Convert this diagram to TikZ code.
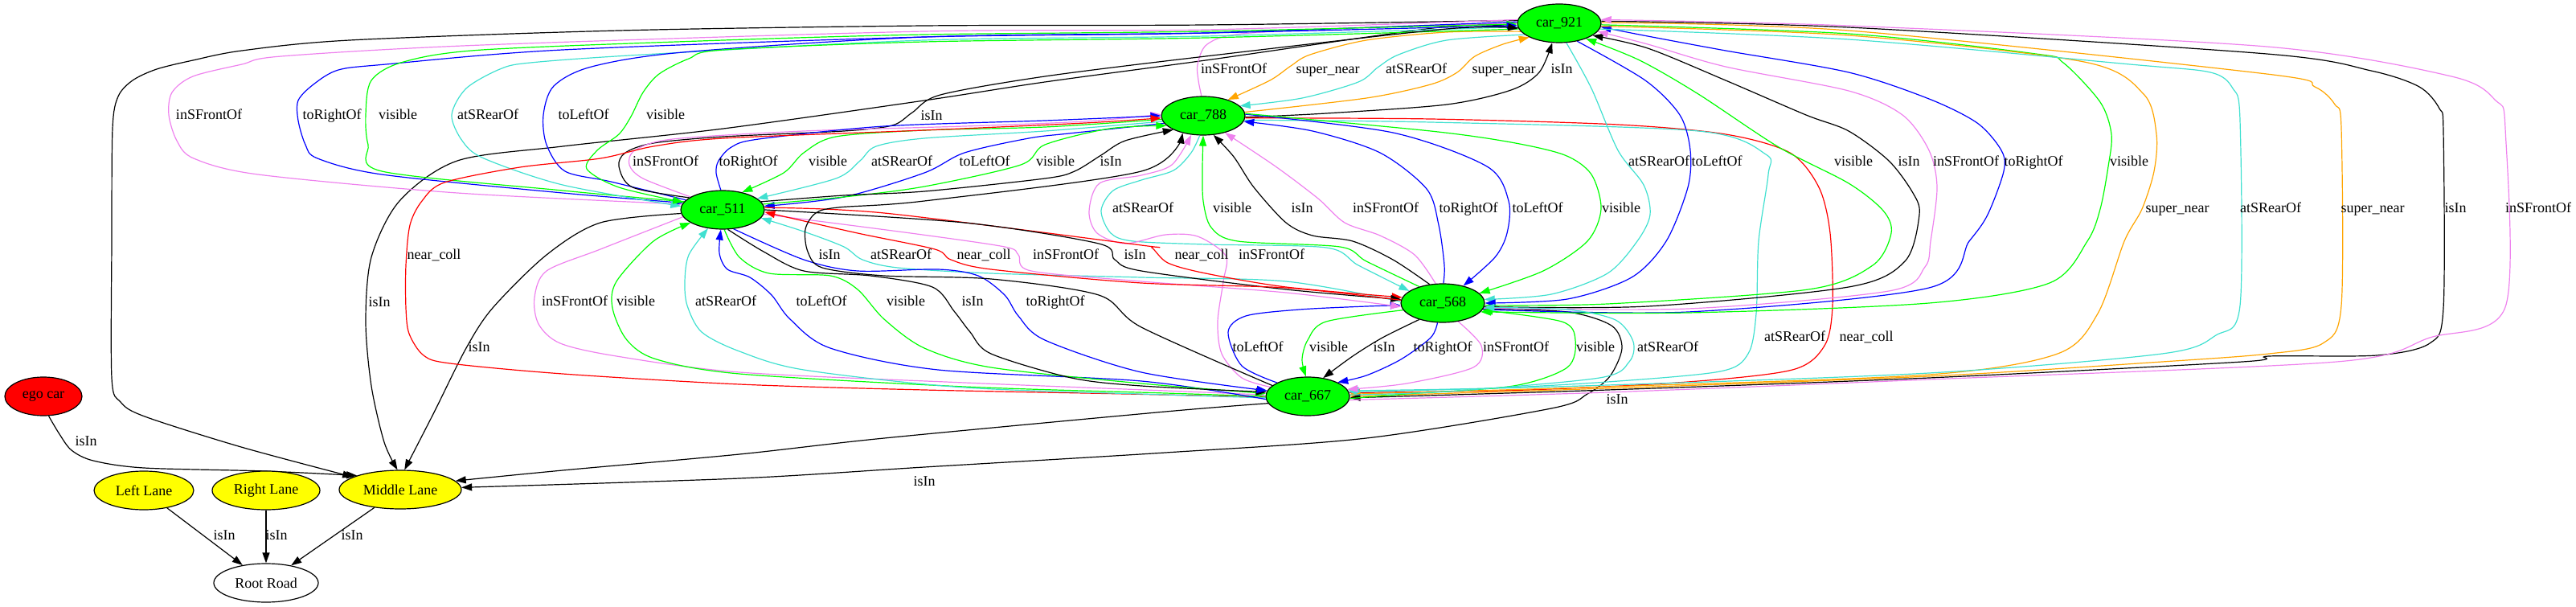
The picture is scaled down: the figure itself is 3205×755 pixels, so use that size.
\documentclass[tikz,border=0pt]{standalone}
\usepackage{fontspec}
\setmainfont{Liberation Serif}
\usetikzlibrary{shapes.geometric,arrows.meta}
\pgfdeclarelayer{bg}
\pgfsetlayers{bg,main}
\definecolor{gvgreen}{RGB}{0,255,0}
\definecolor{gvred}{RGB}{255,0,0}
\definecolor{gvyellow}{RGB}{255,255,0}
\definecolor{gvblue}{RGB}{0,0,255}
\definecolor{gvviolet}{RGB}{238,130,238}
\definecolor{gvturq}{RGB}{64,224,208}
\definecolor{gvorange}{RGB}{255,165,0}
\newcommand\gvf{\fontsize{13.5pt}{16pt}\selectfont}
\begin{document}
\begin{tikzpicture}[x=0.75pt,y=-0.75pt,
  nd/.style={ellipse, draw=black, line width=0.9pt, inner sep=0pt, minimum height=36pt, font=\gvf},
  car/.style={nd, fill=gvgreen, minimum width=78pt},
  E/.style={draw=#1, line width=0.9pt, -{Triangle[length=9.75pt,width=6.75pt]}},
  lab/.style={font=\gvf, inner sep=0pt, text height=0.66em, text depth=0pt}]
\useasboundingbox (0,0) rectangle (3205,755);
% nodes
\node[car] (c921) at (1940,29) {car\_921};
\node[car] (c788) at (1497,144) {car\_788};
\node[car] (c511) at (899,261) {car\_511};
\node[car] (c568) at (1795,377) {car\_568};
\node[car] (c667) at (1627,493) {car\_667};
\node[nd, fill=gvred, minimum width=72pt] (ego) at (54,493) {ego car};
\node[nd, fill=gvyellow, minimum width=93pt] (lleft) at (179,610) {Left Lane};
\node[nd, fill=gvyellow, minimum width=100.5pt] (lright) at (331,610) {Right Lane};
\node[nd, fill=gvyellow, minimum width=114pt] (lmid) at (498,609) {Middle Lane};
\node[nd, fill=white, minimum width=97.5pt] (root) at (331,725) {Root Road};
\begin{pgfonlayer}{bg}
% lanes
\draw[E=black] (lleft) -- (root);
\draw[E=black] (lright) -- (root);
\draw[E=black] (lmid) -- (root);
\draw[E=black] plot[smooth] coordinates {(ego.-75) (74,540) (89,560) (116,573) (179,582) (330,586) (lmid.162)};
% cars to middle lane
\draw[E=black] plot[smooth] coordinates {(c921.176) (1500,31) (1150,32) (770,38) (435,50) (301,63) (240,75) (195,86) (165,100) (147,120) (140,160) (139,300) (139,470) (150,500) (180,518) (300,556) (lmid.165)};
\draw[E=black] plot[smooth] coordinates {(c921.186) (1800,33) (1500,75) (1300,102) (1150,125) (900,160) (700,182) (569,200) (497,250) (462,320) (455,400) (462,480) (478,550) (lmid.98)};
\draw[E=black] plot[smooth] coordinates {(c511.185) (747,277) (680,317) (613,383) (580,433) (540,513) (lmid.78)};
\draw[E=black] plot[smooth] coordinates {(c667.190) (1450,512) (1100,545) (920,565) (700,585) (lmid.9)};
\draw[E=black] plot[smooth] coordinates {(c568.-8) (1950,388) (2005,405) (2018,433) (2003,468) (1975,490) (1930,508) (1700,545) (1450,563) (1150,581) (920,595) (lmid.2)};
% car_921 <-> car_788
\draw[E=gvviolet] plot[smooth] coordinates {(c788.95) (1491,100) (1490,80) (1502,55) (1545,42) (1700,34) (c921.180)};
\draw[E=gvorange] plot[smooth] coordinates {(c921.192) (1800,40) (1700,50) (1630,68) (1606,82) (1580,100) (c788.33)};
\draw[E=gvturq] plot[smooth] coordinates {(c921.198) (1800,50) (1740,68) (1714,84) (1690,102) (1620,122) (c788.15)};
\draw[E=gvorange] plot[smooth] coordinates {(c788.5) (1700,122) (1780,105) (1813,90) (1835,70) (1870,55) (c921.205)};
\draw[E=black] plot[smooth] coordinates {(c788.-2) (1650,141) (1800,130) (1880,112) (1915,90) (c921.250)};
% car_921 <-> car_511 fan
\draw[E=gvviolet] plot[smooth] coordinates {(c921.175) (1500,37) (1150,39) (600,56) (350,70) (301,80) (240,95) (214,115) (210,143) (220,175) (241,197) (321,217) (569,240) (c511.172)};
\draw[E=gvblue] plot[smooth] coordinates {(c921.178) (1500,41) (1150,46) (700,62) (480,80) (421,87) (390,105) (371,125) (371,150) (380,180) (395,197) (475,217) (700,240) (c511.170)};
\draw[E=gvgreen] plot[smooth] coordinates {(c511.168) (700,237) (475,213) (458,180) (455,143) (462,100) (502,77) (600,62) (900,50) (1150,43) (1500,39) (c921.181)};
\draw[E=gvturq] plot[smooth] coordinates {(c921.185) (1500,45) (1150,50) (800,68) (660,78) (622,86) (580,110) (562,143) (575,175) (602,197) (700,230) (c511.175)};
\draw[E=gvblue] plot[smooth] coordinates {(c511.165) (760,226) (703,213) (680,180) (676,143) (689,107) (736,83) (850,65) (1150,46) (1500,41) (c921.183)};
\draw[E=gvgreen] plot[smooth] coordinates {(c921.188) (1500,47) (1150,52) (900,62) (857,73) (820,92) (800,115) (785,145) (770,167) (743,187) (730,210) (770,233) (c511.169)};
\draw[E=black] plot[smooth] coordinates {(c511.160) (787,233) (770,207) (778,190) (813,178) (900,170) (1050,163) (1110,156) (1135,140) (1170,118) (1300,95) (1500,70) (1800,36) (c921.187)};
% car_511 <-> car_788
\draw[E=gvviolet] plot[smooth] coordinates {(c511.158) (800,222) (783,205) (790,187) (837,173) (1000,163) (1200,157) (1350,151) (c788.178)};
\draw[E=gvblue] plot[smooth] coordinates {(c511.95) (891,215) (894,200) (910,183) (944,173) (1100,157) (1300,150) (c788.180)};
\draw[E=gvgreen] plot[smooth] coordinates {(c788.185) (1300,158) (1150,162) (1040,170) (1000,190) (975,215) (c511.42)};
\draw[E=gvturq] plot[smooth] coordinates {(c788.188) (1300,163) (1150,172) (1090,182) (1070,200) (1040,222) (c511.18)};
\draw[E=gvblue] plot[smooth] coordinates {(c788.191) (1330,166) (1280,172) (1200,190) (1150,215) (1050,245) (c511.5)};
\draw[E=gvgreen] plot[smooth] coordinates {(c511.8) (1050,245) (1150,232) (1270,205) (1300,180) (1380,160) (c788.195)};
\draw[E=black] plot[smooth] coordinates {(c511.12) (1050,243) (1150,238) (1300,222) (1337,213) (1370,193) (1400,175) (c788.205)};
% near_coll left loop car_667 -> car_788
\draw[E=gvred] plot[smooth] coordinates {(c667.181) (1400,490) (1150,485) (920,478) (700,465) (560,452) (527,442) (509,415) (505,383) (505,330) (510,280) (525,250) (553,227) (647,208) (747,197) (813,182) (900,172) (1150,162) (1350,153) (c788.183)};
% car_788 -> car_667 right side
\draw[E=gvred] plot[smooth] coordinates {(c788.-3) (1780,148) (2013,155) (2147,167) (2227,190) (2263,233) (2277,290) (2280,380) (2270,430) (2230,460) (2100,475) (1900,485) (c667.5)};
\draw[E=gvturq] plot[smooth] coordinates {(c788.-6) (1780,152) (2113,163) (2197,192) (2200,217) (2188,300) (2185,390) (2175,440) (2140,462) (2000,475) (1850,483) (c667.8)};
% car_788 <-> car_568
\draw[E=gvturq] plot[smooth] coordinates {(c788.-100) (1482,190) (1460,212) (1420,224) (1385,237) (1370,262) (1382,290) (1410,300) (1500,304) (1650,308) (1690,330) (c568.160)};
\draw[E=gvviolet] plot[smooth] coordinates {(c667.166) (1545,470) (1520,440) (1515,400) (1522,350) (1525,318) (1490,294) (1450,292) (1400,303) (1365,290) (1355,263) (1368,228) (1420,218) (1458,205) (c788.-122)};
\draw[E=gvgreen] plot[smooth] coordinates {(c568.145) (1700,325) (1667,307) (1540,300) (1507,283) (1497,250) (1496,210) (c788.-90)};
\draw[E=black] plot[smooth] coordinates {(c568.125) (1733,323) (1683,300) (1633,293) (1600,277) (1560,233) (1535,195) (c788.-62)};
\draw[E=gvviolet] plot[smooth] coordinates {(c568.110) (1760,317) (1717,293) (1673,277) (1640,247) (1587,207) (c788.-38)};
\draw[E=gvblue] plot[smooth] coordinates {(c568.88) (1797,330) (1790,280) (1775,235) (1717,190) (1633,163) (c788.-8)};
\draw[E=gvblue] plot[smooth] coordinates {(c788.2) (1733,165) (1850,207) (1877,250) (1875,290) (1860,320) (c568.40)};
\draw[E=gvgreen] plot[smooth] coordinates {(c788.3) (1780,163) (1880,177) (1947,193) (1980,217) (1992,260) (1975,300) (1920,337) (c568.15)};
% car_921 <-> car_568
\draw[E=gvturq] plot[smooth] coordinates {(c921.-70) (1980,110) (2013,187) (2045,230) (2053,267) (2037,300) (2000,340) (1930,366) (c568.5)};
\draw[E=gvblue] plot[smooth] coordinates {(c921.-45) (2047,100) (2090,143) (2103,187) (2100,233) (2073,300) (2030,345) (1950,372) (c568.0)};
\draw[E=gvgreen] plot[smooth] coordinates {(c568.-3) (2000,378) (2250,360) (2330,330) (2353,290) (2343,262) (2300,228) (2213,183) (2113,117) (2040,75) (c921.-30)};
\draw[E=black] plot[smooth] coordinates {(c568.-5) (2050,381) (2300,357) (2370,325) (2388,267) (2380,240) (2350,200) (2300,163) (2247,143) (2147,100) (2050,60) (c921.-20)};
\draw[E=gvviolet] plot[smooth] coordinates {(c568.-7) (2100,384) (2350,362) (2395,332) (2402,300) (2410,233) (2400,187) (2367,143) (2300,113) (2147,83) (2050,55) (c921.-12)};
\draw[E=gvblue] plot[smooth] coordinates {(c568.-9) (2100,388) (2400,358) (2450,300) (2473,267) (2493,213) (2490,187) (2460,153) (2400,123) (2300,90) (2147,63) (2050,45) (c921.-5)};
\draw[E=gvgreen] plot[smooth] coordinates {(c921.-2) (2300,42) (2533,67) (2567,78) (2613,127) (2627,167) (2623,207) (2613,260) (2597,300) (2550,352) (2400,377) (2100,389) (c568.-13)};
% car_921 <-> car_667 far right
\draw[E=gvorange] plot[smooth] coordinates {(c921.-4) (2300,44) (2593,77) (2667,117) (2683,167) (2680,213) (2665,260) (2643,300) (2610,390) (2560,440) (2400,466) (2000,481) (c667.3)};
\draw[E=gvturq] plot[smooth] coordinates {(c921.-8) (2300,49) (2650,80) (2750,90) (2778,110) (2787,150) (2787,380) (2757,417) (2690,440) (2400,464) (2000,479) (c667.6)};
\draw[E=gvorange] plot[smooth] coordinates {(c921.1) (2300,38) (2820,92) (2880,108) (2905,130) (2913,160) (2913,380) (2890,427) (2823,440) (2690,450) (2400,468) (2000,483) (c667.0)};
\draw[E=black] plot[smooth] coordinates {(c921.3) (2300,34) (2820,67) (2950,88) (3010,108) (3035,135) (3040,165) (3040,383) (3023,427) (2957,442) (2823,443) (2790,450) (2400,470) (2000,485) (c667.-2)};
\draw[E=gvviolet] plot[smooth] coordinates {(c667.-5) (2000,488) (2400,472) (2907,450) (3023,420) (3117,382) (3117,160) (3105,125) (3050,95) (2820,58) (2300,32) (c921.5)};
% car_568 <-> car_667
\draw[E=gvblue] plot[smooth] coordinates {(c667.156) (1545,455) (1528,413) (1550,393) (1617,385) (1700,381) (c568.183)};
\draw[E=gvgreen] plot[smooth] coordinates {(c568.190) (1650,400) (1627,423) (1620,447) (c667.95)};
\draw[E=black] plot[smooth] coordinates {(c568.215) (1720,420) (1683,443) (c667.50)};
\draw[E=gvblue] plot[smooth] coordinates {(c568.-105) (1780,420) (1743,447) (1700,467) (c667.25)};
\draw[E=gvgreen] plot[smooth] coordinates {(c667.-3) (1750,490) (1883,480) (1950,457) (1960,423) (1943,400) (c568.-10)};
\draw[E=gvturq] plot[smooth] coordinates {(c667.2) (1800,487) (1990,470) (2027,450) (2032,425) (2010,398) (1950,385) (c568.-6)};
\draw[E=gvviolet] plot[smooth] coordinates {(c568.-50) (1843,430) (1833,457) (1750,477) (c667.10)};
% car_511 <-> car_568
\draw[E=gvturq] plot[smooth] coordinates {(c568.178) (1600,350) (1420,345) (1233,340) (1117,333) (1073,323) (1050,307) (1000,288) (c511.-12)};
\draw[E=gvred] plot[smooth] coordinates {(c511.3) (1100,265) (1420,305) (1433,308) (1453,327) (1500,340) (1600,357) (c568.172)};
\draw[E=black] plot[smooth] coordinates {(c511.0) (1200,277) (1367,303) (1387,323) (1420,337) (1600,360) (c568.175)};
\draw[E=gvviolet] plot[smooth] coordinates {(c511.-6) (1133,290) (1250,307) (1267,317) (1283,337) (1420,350) (1600,364) (c568.185)};
\draw[E=gvred] plot[smooth] coordinates {(c568.176) (1600,358) (1420,352) (1233,335) (1183,323) (1163,310) (1067,290) (c511.-3)};
% car_511 <-> car_667
\draw[E=gvviolet] plot[smooth] coordinates {(c511.-170) (747,310) (680,337) (665,370) (670,403) (697,427) (767,443) (920,463) (1200,476) (1450,486) (c667.178)};
\draw[E=gvgreen] plot[smooth] coordinates {(c667.180) (1450,489) (1200,481) (920,465) (817,447) (780,423) (762,383) (767,350) (813,300) (c511.-158)};
\draw[E=gvturq] plot[smooth] coordinates {(c667.182) (1450,491) (1200,482) (1000,460) (920,437) (873,413) (855,380) (852,350) (857,317) (c511.-128)};
\draw[E=gvblue] plot[smooth] coordinates {(c667.184) (1420,474) (1167,460) (1033,433) (983,397) (960,367) (933,345) (905,335) (895,315) (c511.-95)};
\draw[E=gvgreen] plot[smooth] coordinates {(c511.-85) (920,320) (957,340) (1033,343) (1067,360) (1100,397) (1150,433) (1233,457) (1420,477) (c667.176)};
\draw[E=black] plot[smooth] coordinates {(c511.-75) (950,313) (1000,337) (1083,343) (1160,357) (1187,387) (1207,413) (1233,440) (1333,470) (1420,480) (c667.174)};
\draw[E=gvblue] plot[smooth] coordinates {(c511.-60) (1000,323) (1067,337) (1167,335) (1217,343) (1250,367) (1267,393) (1300,423) (1420,463) (c667.172)};
% car_667 -> car_788 isIn loop
\draw[E=black] plot[smooth] coordinates {(c667.163) (1420,407) (1367,367) (1233,347) (1100,343) (1023,333) (1005,313) (1002,285) (1015,265) (1043,258) (1150,250) (1420,213) (c788.-140)};
\end{pgfonlayer}
% labels
\node[lab] (t01) at (1535,87) {inSFrontOf};
\node[lab] (t02) at (1652,87) {super\_near};
\node[lab] (t03) at (1762,87) {atSRearOf};
\node[lab] (t04) at (1871,87) {super\_near};
\node[lab] (t05) at (1943,87) {isIn};
\node[lab] (t06) at (260,144) {inSFrontOf};
\node[lab] (t07) at (413,144) {toRightOf};
\node[lab] (t08) at (495,144) {visible};
\node[lab] (t09) at (607,144) {atSRearOf};
\node[lab] (t10) at (726,144) {toLeftOf};
\node[lab] (t11) at (828,144) {visible};
\node[lab] (t12) at (1159,145) {isIn};
\node[lab] (t13) at (828,202) {inSFrontOf};
\node[lab] (t14) at (931,202) {toRightOf};
\node[lab] (t15) at (1030,202) {visible};
\node[lab] (t16) at (1122,202) {atSRearOf};
\node[lab] (t17) at (1225,202) {toLeftOf};
\node[lab] (t18) at (1313,202) {visible};
\node[lab] (t19) at (1382,202) {isIn};
\node[lab] (t20) at (2064,202) {atSRearOf};
\node[lab] (t21) at (2136,202) {toLeftOf};
\node[lab] (t22) at (2306,202) {visible};
\node[lab] (t23) at (2375,202) {isIn};
\node[lab] (t24) at (2446,202) {inSFrontOf};
\node[lab] (t25) at (2530,202) {toRightOf};
\node[lab] (t26) at (2649,202) {visible};
\node[lab] (t27) at (1422,260) {atSRearOf};
\node[lab] (t28) at (1533,260) {visible};
\node[lab] (t29) at (1620,260) {isIn};
\node[lab] (t30) at (1724,260) {inSFrontOf};
\node[lab] (t31) at (1827,260) {toRightOf};
\node[lab] (t32) at (1913,260) {toLeftOf};
\node[lab] (t33) at (2017,260) {visible};
\node[lab] (t34) at (2709,260) {super\_near};
\node[lab] (t35) at (2825,260) {atSRearOf};
\node[lab] (t36) at (2952,260) {super\_near};
\node[lab] (t37) at (3055,260) {isIn};
\node[lab] (t38) at (3158,260) {inSFrontOf};
\node[lab] (t39) at (540,318) {near\_coll};
\node[lab] (t40) at (1032,318) {isIn};
\node[lab] (t41) at (1121,318) {atSRearOf};
\node[lab] (t42) at (1224,318) {near\_coll};
\node[lab] (t43) at (1326,318) {inSFrontOf};
\node[lab] (t44) at (1412,318) {isIn};
\node[lab] (t45) at (1495,318) {near\_coll};
\node[lab] (t46) at (1582,318) {inSFrontOf};
\node[lab] (t47) at (472,377) {isIn};
\node[lab] (t48) at (715,376) {inSFrontOf};
\node[lab] (t49) at (791,376) {visible};
\node[lab] (t50) at (903,376) {atSRearOf};
\node[lab] (t51) at (1022,376) {toLeftOf};
\node[lab] (t52) at (1127,376) {visible};
\node[lab] (t53) at (1210,376) {isIn};
\node[lab] (t54) at (1313,376) {toRightOf};
\node[lab] (t55) at (2233,420) {atSRearOf};
\node[lab] (t56) at (2322,420) {near\_coll};
\node[lab] (t57) at (596,433) {isIn};
\node[lab] (t58) at (1565,433) {toLeftOf};
\node[lab] (t59) at (1653,433) {visible};
\node[lab] (t60) at (1722,433) {isIn};
\node[lab] (t61) at (1795,433) {toRightOf};
\node[lab] (t62) at (1886,433) {inSFrontOf};
\node[lab] (t63) at (1985,433) {visible};
\node[lab] (t64) at (2075,433) {atSRearOf};
\node[lab] (t65) at (2012,498) {isIn};
\node[lab] (t66) at (107,550) {isIn};
\node[lab] (t67) at (1150,600) {isIn};
\node[lab] (t68) at (279,667) {isIn};
\node[lab] (t69) at (344,667) {isIn};
\node[lab] (t70) at (438,667) {isIn};
\end{tikzpicture}
\end{document}
